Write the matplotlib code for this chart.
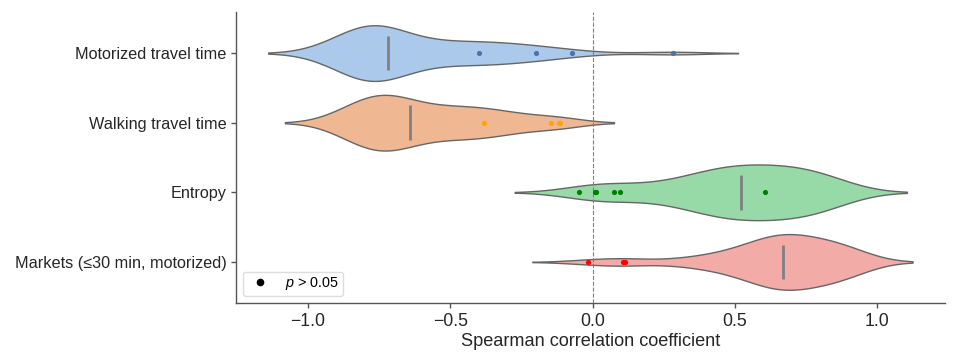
import colorsys
import numpy as np
import matplotlib
matplotlib.use("Agg")
import matplotlib.pyplot as plt
from matplotlib.colors import to_rgb
from matplotlib.lines import Line2D

plt.rcParams['font.family'] = ['Liberation Sans', 'DejaVu Sans']
plt.rcParams['mathtext.fontset'] = 'custom'
plt.rcParams['mathtext.it'] = 'Liberation Sans:italic'
plt.rcParams['mathtext.rm'] = 'Liberation Sans'

categories = ["Motorized travel time", "Walking travel time", "Entropy",
              "Markets (\u226430 min, motorized)"]

motorized = [-0.91, -0.88, -0.86, -0.845, -0.83, -0.82, -0.81, -0.80, -0.79,
             -0.785, -0.78, -0.775, -0.77, -0.765, -0.76, -0.755, -0.75,
             -0.74, -0.73, -0.725, -0.715, -0.69, -0.66, -0.62, -0.58, -0.55,
             -0.52, -0.49, -0.46, -0.43, -0.40, -0.37, -0.34, -0.31, -0.28,
             -0.24, -0.20, -0.14, -0.074, 0.281]
walking = [-0.89, -0.87, -0.85, -0.83, -0.81, -0.80, -0.79, -0.78, -0.77,
           -0.76, -0.75, -0.74, -0.73, -0.72, -0.71, -0.70, -0.69, -0.68,
           -0.665, -0.65, -0.635, -0.61, -0.585, -0.56, -0.535, -0.51, -0.49,
           -0.47, -0.45, -0.43, -0.41, -0.382, -0.36, -0.34, -0.31, -0.28,
           -0.24, -0.147, -0.119, -0.116]
entropy = [-0.047, 0.008, 0.013, 0.075, 0.095, 0.18, 0.24, 0.29, 0.32, 0.35,
           0.37, 0.39, 0.41, 0.43, 0.45, 0.47, 0.48, 0.50, 0.51, 0.52, 0.526,
           0.55, 0.575, 0.59, 0.604, 0.62, 0.64, 0.66, 0.675, 0.69, 0.705,
           0.72, 0.735, 0.75, 0.77, 0.79, 0.81, 0.83, 0.855, 0.877]
markets = [-0.018, 0.108, 0.114, 0.30, 0.37, 0.42, 0.46, 0.49, 0.52, 0.54,
           0.56, 0.58, 0.595, 0.61, 0.62, 0.63, 0.64, 0.65, 0.655, 0.66,
           0.675, 0.685, 0.695, 0.705, 0.715, 0.725, 0.74, 0.755, 0.77,
           0.785, 0.80, 0.815, 0.83, 0.845, 0.86, 0.875, 0.89, 0.905, 0.92,
           0.93]

# non-significant (p > 0.05) coefficients
ns_motorized = [-0.40, -0.20, -0.074, 0.281]
ns_walking = [-0.382, -0.147, -0.119, -0.116]
ns_entropy = [-0.047, 0.008, 0.013, 0.075, 0.095, 0.604]
ns_markets = [-0.018, 0.108, 0.114]

series = [motorized, walking, entropy, markets]
ns_series = [ns_motorized, ns_walking, ns_entropy, ns_markets]

base_colors = ['#a1c9f4', '#ffb482', '#8de5a1', '#ff9f9b']
dot_colors = ['#4c72b0', 'orange', 'green', 'red']
kde_bandwidth = [0.115, 0.0955, 0.1135, 0.097]


def desaturate(color, prop=0.75):
    h, l, s = colorsys.rgb_to_hls(*to_rgb(color))
    return colorsys.hls_to_rgb(h, l, s * prop)


fig = plt.figure(figsize=(9.57, 3.59), dpi=100)
ax = fig.add_axes([236/957, 1-303/359, (945-236)/957, (303-12)/359])

half_width = 0.4
for i, (vals, col, bw) in enumerate(zip(series, base_colors, kde_bandwidth)):
    v = np.asarray(vals, dtype=float)
    grid = np.linspace(v.min() - 2 * bw, v.max() + 2 * bw, 400)
    dens = np.exp(-0.5 * ((grid[:, None] - v[None, :]) / bw) ** 2).sum(axis=1)
    dens = dens / dens.max() * half_width
    ax.fill_between(grid, i - dens, i + dens, facecolor=desaturate(col),
                    edgecolor='#666666', linewidth=1.0, zorder=2)
    ax.vlines(np.median(v), i - 0.25, i + 0.25, color='gray', linewidth=2,
              zorder=3)

ax.axvline(0, color='gray', linestyle='--', linewidth=0.8, zorder=4)

for i, (ns, col) in enumerate(zip(ns_series, dot_colors)):
    ax.scatter(ns, [i] * len(ns), s=14, color=col, zorder=5, linewidths=0)

ax.set_yticks(range(len(categories)))
ax.set_yticklabels(categories, fontsize=11.7)
ax.set_ylim(3.59, -0.59)
ax.set_xlim(-1.253, 1.238)
ax.set_xticks([-1.0, -0.5, 0.0, 0.5, 1.0])
ax.set_xticklabels(['\u22121.0', '\u22120.5', '0.0', '0.5', '1.0'],
                   fontsize=12.7)
ax.tick_params(axis='both', colors='#262626', length=3.5, width=1,
               color='#555555')
ax.set_xlabel('Spearman correlation coefficient', fontsize=13.1,
              color='#262626', labelpad=2)
for s in ['top', 'right']:
    ax.spines[s].set_visible(False)
for s in ['left', 'bottom']:
    ax.spines[s].set_color('#555555')
    ax.spines[s].set_linewidth(1.0)

handle = Line2D([], [], marker='o', color='black', linestyle='None',
                markersize=4.5)
ax.legend([handle], ['$p$ > 0.05'], loc='lower left', fontsize=10.4,
          handlelength=1.86, handletextpad=0.8, borderpad=0.25,
          framealpha=1, edgecolor='#dddddd')

fig.savefig('out.png', dpi=100)
